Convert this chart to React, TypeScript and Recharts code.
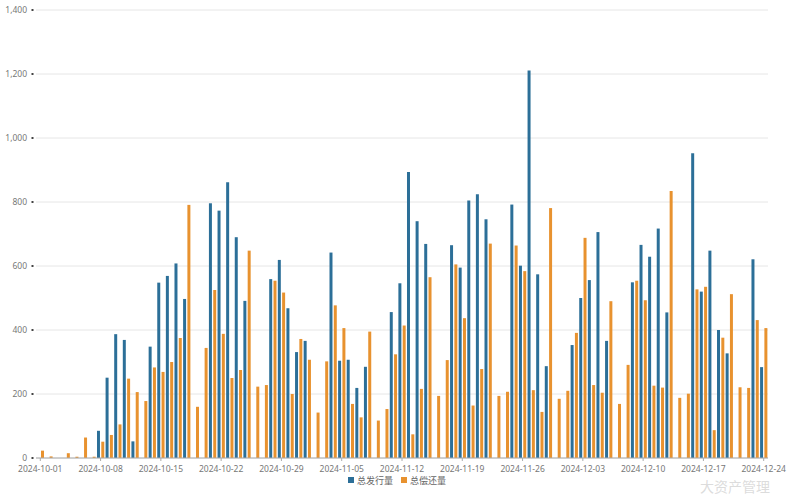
import React from 'react';
import { BarChart, Bar, XAxis, YAxis, CartesianGrid, Legend } from 'recharts';

// daily dates, 2024-10-01 .. 2024-12-24
const dates = [
  '2024-10-01', '2024-10-02', '2024-10-03', '2024-10-04', '2024-10-05', '2024-10-06', '2024-10-07',
  '2024-10-08', '2024-10-09', '2024-10-10', '2024-10-11', '2024-10-12', '2024-10-13', '2024-10-14',
  '2024-10-15', '2024-10-16', '2024-10-17', '2024-10-18', '2024-10-19', '2024-10-20', '2024-10-21',
  '2024-10-22', '2024-10-23', '2024-10-24', '2024-10-25', '2024-10-26', '2024-10-27', '2024-10-28',
  '2024-10-29', '2024-10-30', '2024-10-31', '2024-11-01', '2024-11-02', '2024-11-03', '2024-11-04',
  '2024-11-05', '2024-11-06', '2024-11-07', '2024-11-08', '2024-11-09', '2024-11-10', '2024-11-11',
  '2024-11-12', '2024-11-13', '2024-11-14', '2024-11-15', '2024-11-16', '2024-11-17', '2024-11-18',
  '2024-11-19', '2024-11-20', '2024-11-21', '2024-11-22', '2024-11-23', '2024-11-24', '2024-11-25',
  '2024-11-26', '2024-11-27', '2024-11-28', '2024-11-29', '2024-11-30', '2024-12-01', '2024-12-02',
  '2024-12-03', '2024-12-04', '2024-12-05', '2024-12-06', '2024-12-07', '2024-12-08', '2024-12-09',
  '2024-12-10', '2024-12-11', '2024-12-12', '2024-12-13', '2024-12-14', '2024-12-15', '2024-12-16',
  '2024-12-17', '2024-12-18', '2024-12-19', '2024-12-20', '2024-12-21', '2024-12-22', '2024-12-23',
  '2024-12-24',
];

// 总发行量
const issuance = [
  0, 0, 0, 0, 0, 0, 0,
  85, 251, 387, 369, 52, 0, 348,
  548, 569, 608, 497, 0, 0, 796,
  773, 862, 690, 491, 0, 0, 559,
  619, 468, 331, 366, 0, 0, 642,
  304, 307, 219, 285, 0, 0, 456,
  546, 894, 740, 669, 0, 0, 665,
  595, 805, 824, 746, 0, 0, 792,
  601, 1211, 574, 287, 0, 0, 353,
  500, 556, 706, 366, 0, 0, 549,
  666, 629, 717, 455, 0, 0, 952,
  520, 648, 400, 327, 0, 0, 621,
  284,
];

// 总偿还量
const repayment = [
  23, 5, 0, 15, 4, 64, 4,
  51, 72, 105, 248, 206, 178, 283,
  269, 300, 375, 791, 160, 344, 525,
  388, 250, 275, 648, 223, 228, 554,
  517, 200, 372, 307, 142, 302, 477,
  406, 169, 127, 395, 117, 153, 324,
  414, 74, 216, 565, 194, 306, 605,
  437, 164, 278, 670, 194, 207, 664,
  584, 212, 144, 781, 185, 210, 391,
  688, 228, 204, 490, 169, 291, 554,
  493, 226, 220, 834, 188, 201, 527,
  535, 87, 376, 512, 221, 219, 431,
  406,
];

const yTicks = [0, 200, 400, 600, 800, 1000, 1200, 1400];
const seriesOrder = ['issuance', 'repayment'];

const BLUE = '#2c6f98';
const ORANGE = '#e8922f';
const FONT = '"Noto Sans", "Noto Sans CJK SC", sans-serif';

const data = dates.map((d, i) => ({ date: d, issuance: issuance[i], repayment: repayment[i] }));

const YTick = ({ x, y, payload }: any) => (
  <g>
    <text x={x - 9} y={y} dy={3} textAnchor="end" fontSize={8.5} fill="#777" fontFamily={FONT}>
      {payload.value.toLocaleString('en-US')}
    </text>
    <rect x={x - 4.5} y={y - 1} width={2} height={2} fill="#444" />
  </g>
);

const LegendContent = ({ payload }: any) => {
  const items = [...(payload || [])].sort(
    (a: any, b: any) => seriesOrder.indexOf(a.dataKey) - seriesOrder.indexOf(b.dataKey)
  );
  return (
    <div
      style={{
        display: 'flex',
        justifyContent: 'center',
        alignItems: 'center',
        height: 14,
        paddingLeft: 26,
        fontFamily: FONT,
        fontSize: 9,
        color: '#666',
      }}
    >
      {items.map((p: any) => (
        <span key={p.value} style={{ display: 'flex', alignItems: 'center', margin: '0 4px' }}>
          <span style={{ width: 6, height: 6, background: p.color, marginRight: 3 }} />
          {p.value}
        </span>
      ))}
    </div>
  );
};

export default function App() {
  return (
    <div style={{ position: 'absolute', left: 0, top: 0, width: 796, height: 495, background: '#fff' }}>
      <BarChart
        width={796}
        height={495}
        data={data}
        margin={{ top: 10, right: 28, left: 0, bottom: 8 }}
        barCategoryGap="8%"
        barGap={1.3}
      >
        <CartesianGrid stroke="#e6e6e6" vertical={false} />
        <XAxis
          dataKey="date"
          interval={6}
          height={15}
          tickSize={3}
          tickMargin={5}
          tick={{ fontSize: 8.5, fill: '#777', fontFamily: FONT }}
          axisLine={{ stroke: '#aaa' }}
          tickLine={{ stroke: '#aaa' }}
        />
        <YAxis
          width={36}
          domain={[0, 1400]}
          ticks={yTicks}
          tick={<YTick />}
          tickSize={0}
          tickMargin={0}
          axisLine={false}
          tickLine={false}
        />
        <Legend verticalAlign="bottom" content={<LegendContent />} />
        <Bar dataKey="issuance" name="总发行量" fill={BLUE} isAnimationActive={false} />
        <Bar dataKey="repayment" name="总偿还量" fill={ORANGE} isAnimationActive={false} />
      </BarChart>
      <div
        style={{
          position: 'absolute',
          left: 700,
          top: 479,
          fontFamily: '"Noto Sans CJK SC", sans-serif',
          fontSize: 14,
          lineHeight: 1,
          color: 'rgba(190,190,190,0.55)',
          pointerEvents: 'none',
        }}
      >
        大资产管理
      </div>
    </div>
  );
}
